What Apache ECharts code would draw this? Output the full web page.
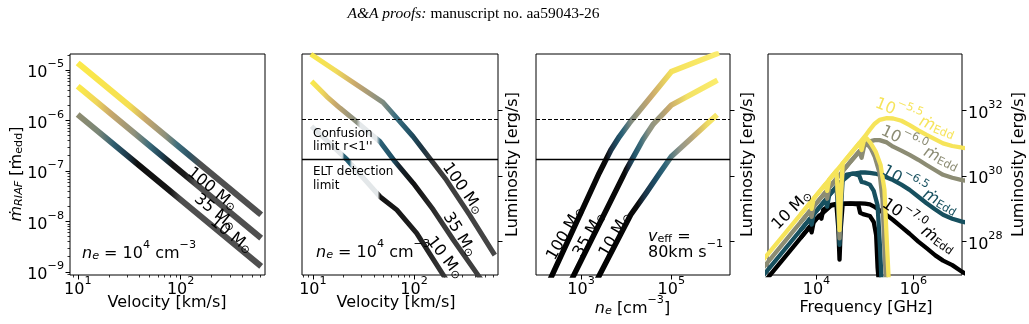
<!DOCTYPE html>
<html>
<head>
<meta charset="utf-8">
<script src="https://cdn.jsdelivr.net/npm/echarts@6.0.0/dist/echarts.min.js"></script>
<style>
html,body{margin:0;padding:0;background:#ffffff;}
#chart{width:1029px;height:324px;}
</style>
</head>
<body>
<div id="chart"></div>
<script>
// ================= DATA =================
// Panel 1: accretion rate vs velocity, n_e = 1e4 cm^-3
const p1Velocity = [10.5, 575];
const p1Mdot100 = [1.26e-5, 1.48e-8];
const p1Mdot35  = [4.37e-6, 5.1e-9];
const p1Mdot10  = [1.2e-6, 1.41e-9];
const p1XTicks = [10, 100];
const p1YTicks = [1e-9, 1e-8, 1e-7, 1e-6, 1e-5];

// Panel 2: luminosity vs velocity
const p2Vel100 = [10, 49.3, 97.7, 209, 355, 610];
const p2Lum100 = [4.79e33, 1.78e32, 1.62e31, 7.59e29, 6.46e28, 4.47e27];
const p2Vel35  = [10.1, 13.7, 18.5, 27.1, 46.1, 64.9, 98.4, 155, 245, 417, 501];
const p2Lum35  = [6.92e32, 2.69e32, 1.2e32, 4.57e31, 1.12e31, 2.75e30, 6.03e29, 9.33e28, 1.12e28, 1.07e27, 4.79e26];
const p2Vel10  = [10.1, 21.6, 46.1, 67.5, 106, 181, 214];
const p2Lum10  = [2.95e31, 3.24e30, 2.34e29, 9.33e28, 1.82e28, 1.35e27, 6.03e26];
const limitLum = [5.46e31, 3.35e30];   // confusion limit r<1'', ELT detection limit

// Panel 3: luminosity vs density, v_eff = 80 km/s
const p3Dens100 = [158, 2512, 4571, 7079, 11750, 1e5, 1e6];
const p3Lum100  = [3.16e26, 1.23e30, 6.31e30, 1.62e31, 4.17e31, 1.55e33, 5.37e33];
const p3Dens35  = [501, 1e4, 23440, 38900, 1e5, 9.33e5];
const p3Lum35   = [3.89e26, 1.55e30, 1.29e31, 3.72e31, 1.48e32, 7.76e32];
const p3Dens10  = [1995, 12590, 27540, 54950, 1e5, 9.33e5];
const p3Lum10   = [4.9e26, 6.61e28, 3.02e29, 1.23e30, 3.98e30, 6.61e31];
const p3XTicks = [1e3, 1e5];
const lumTicks = [1e28, 1e30, 1e32];

// Panel 4: spectra of a 10 Msun BH for four accretion rates
const p4FreqSmooth = [794, 3162, 1e4, 19950, 31620, 50120, 79430, 1e5, 125900, 158500, 199500, 281800, 380200, 562300, 831800, 1.259e6, 1.862e6, 2.818e6, 4.074e6, 6.31e6, 1e7, 1.259e7];
const p4LumSmooth55 = [2.75e27, 3.31e28, 2.63e29, 9.12e29, 2.09e30, 4.79e30, 1.1e31, 1.66e31, 2.63e31, 3.98e31, 5.25e31, 5.89e31, 5.75e31, 4.9e31, 3.63e31, 2.51e31, 1.82e31, 1.32e31, 1e31, 8.32e30, 7.41e30, 7.08e30];
const p4LumSmooth60 = [1.58e27, 1.91e28, 1.51e29, 5.25e29, 1.2e30, 2.75e30, 6.03e30, 8.91e30, 1.15e31, 1.26e31, 1.26e31, 1.07e31, 7.94e30, 6.03e30, 4.47e30, 3.16e30, 2.19e30, 1.51e30, 1.1e30, 8.91e29, 7.59e29, 7.24e29];
const p4LumSmooth65 = [9.12e26, 1.1e28, 8.71e28, 3.02e29, 6.61e29, 1.15e30, 1.29e30, 1.29e30, 1.26e30, 1.2e30, 1.1e30, 9.12e29, 7.59e29, 5.5e29, 3.8e29, 2.34e29, 1.48e29, 9.55e28, 6.61e28, 5.01e28, 4.07e28, 3.8e28];
const p4LumSmooth70 = [5.25e26, 6.31e27, 5.01e28, 1.26e29, 1.45e29, 1.48e29, 1.48e29, 1.45e29, 1.38e29, 1.15e29, 9.12e28, 6.46e28, 4.57e28, 2.82e28, 1.74e28, 1e28, 6.31e27, 3.8e27, 2.63e27, 1.91e27, 1.2e27, 1e27];

const p4FreqAbs55 = [5012, 7244, 7943, 8710, 15140, 16600, 18200, 25700, 28180, 29850, 31620, 34670, 75860, 85110, 95500, 109600, 131800, 166000, 208900, 251200, 281800, 316200];
const p4LumAbs55  = [7.59e28, 1.48e29, 1e29, 2.04e29, 5.5e29, 3.55e29, 7.76e29, 1.45e30, 2e29, 2.24e28, 2e29, 2.45e30, 1e31, 6.31e30, 1.26e31, 1.41e31, 1e31, 5.62e30, 2.24e30, 3.98e29, 1e28, 3.16e26];
const p4FreqAbs60 = [5012, 7244, 7943, 8710, 15140, 16600, 18200, 25700, 28180, 29850, 31620, 34670, 75860, 85110, 95500, 109600, 131800, 158500, 199500, 229100, 251200, 275400];
const p4LumAbs60  = [4.37e28, 8.51e28, 5.75e28, 1.17e29, 3.16e29, 2.04e29, 4.47e29, 8.32e29, 1.26e29, 1.26e28, 1.26e29, 1.41e30, 5.75e30, 3.63e30, 7.94e30, 1e31, 7.08e30, 3.98e30, 1.26e30, 2e29, 6.31e27, 3.16e26];
const p4FreqAbs65 = [5012, 7244, 7943, 8710, 15140, 16600, 18200, 25700, 28180, 29850, 31620, 34670, 41690, 56230, 75860, 85110, 1e5, 125900, 151400, 182000, 204200, 223900];
const p4LumAbs65  = [2.51e28, 4.9e28, 3.31e28, 6.76e28, 1.82e29, 1.17e29, 2.57e29, 4.79e29, 7.94e28, 7.94e27, 7.94e28, 7.94e29, 1.12e30, 1.2e30, 1.05e30, 6.61e29, 6.31e29, 5.5e29, 3.55e29, 1.26e29, 6.31e27, 3.16e26];
const p4FreqAbs70 = [5012, 7244, 7943, 8710, 11480, 12590, 13800, 19950, 25700, 28180, 29850, 31620, 34670, 50120, 72440, 79430, 91200, 125900, 151400, 169800, 182000, 199500];
const p4LumAbs70  = [1.45e28, 2.82e28, 1.91e28, 3.89e28, 6.31e28, 5.01e28, 9.55e28, 1.32e29, 1.41e29, 2.51e28, 2.82e27, 2.51e28, 1.41e29, 1.45e29, 1.38e29, 7.59e28, 6.92e28, 6.03e28, 3.98e28, 1.58e28, 1.58e27, 3.16e26];
const p4XTicks = [1e4, 1e6];

const massLabels = ['100', '35', '10'];
const eddExponents = ['\u22125.5', '\u22126.0', '\u22126.5', '\u22127.0'];

// ================= STYLES =================
const FONT = 'DejaVu Sans';
const C55 = '#f6e45a', C60 = '#8c8c74', C65 = '#17505f', C70 = '#000000';
// colour stops along each gradient line, keyed by x value
const GRAD = {
  p1_100: [[10.5,'#fbe94a'],[31.6,'#f5df52'],[44.7,'#caa96b'],[70.8,'#8f917c'],[93.3,'#3e6e7d'],[120,'#2e5566'],[158,'#4f4f4f'],[603,'#4f4f4f']],
  p1_35:  [[10.5,'#fbe94a'],[15.1,'#f0d65a'],[20.9,'#c9a86b'],[35.5,'#8f917c'],[50.1,'#3a6b7b'],[66.1,'#1d3d4f'],[83.2,'#141414'],[110,'#1a1a1a'],[138,'#4f4f4f'],[603,'#4f4f4f']],
  p1_10:  [[10.5,'#8c8b70'],[15.8,'#7a8677'],[22.4,'#2f5e70'],[30.2,'#1d3a4c'],[38,'#0e0e0e'],[79.4,'#161616'],[100,'#4f4f4f'],[603,'#4f4f4f']],
  p2_100: [[10,'#f8e84c'],[16.6,'#f2dc5a'],[26.3,'#c9a86c'],[39.8,'#99957c'],[50.1,'#7d8b80'],[66.1,'#3b6e80'],[89.1,'#235468'],[120,'#1c3442'],[158,'#3a3a3a'],[617,'#474747']],
  p2_35:  [[10,'#f8e84c'],[12.3,'#efd85c'],[16.6,'#c8a86c'],[22.9,'#9b977c'],[26.9,'#8a8f80'],[29.5,'#e4e8ea'],[42.7,'#e4e8ea'],[46.2,'#2d6277'],[61.7,'#1d4e63'],[72.4,'#15222c'],[100,'#111111'],[200,'#3a3a3a'],[501,'#404040']],
  p2_10:  [[10,'#e3e7e9'],[19.5,'#e3e7e9'],[20.4,'#2a6276'],[22.9,'#1d5a70'],[24.3,'#e3e7e9'],[43.7,'#e3e7e9'],[46.2,'#121212'],[126,'#222222'],[214,'#3a3a3a']],
  p3_100: [[158,'#000000'],[3548,'#0a0a0a'],[4365,'#1b2b3c'],[6026,'#1f4a60'],[8318,'#2c6378'],[12590,'#7f8a80'],[19950,'#a39c7a'],[35480,'#c9a86c'],[70790,'#e6cf60'],[1e5,'#f5e25c'],[1e6,'#fbec6c']],
  p3_35:  [[501,'#000000'],[9333,'#0a0a0a'],[11220,'#1b2b3c'],[15140,'#24566b'],[21380,'#3f6f7c'],[31620,'#8c9282'],[56230,'#a39c7a'],[89130,'#c9aa6c'],[141300,'#dcc468'],[223900,'#f3e264'],[933300,'#fbec6c']],
  p3_10:  [[1995,'#000000'],[17780,'#0a0a0a'],[25120,'#1b3347'],[44670,'#1e4d66'],[70790,'#2d6579'],[1e5,'#56797e'],[158500,'#93978a'],[281800,'#b4a57c'],[398100,'#d2b86c'],[631000,'#efdc62'],[933300,'#f8e86a']]
};

// ================= HELPERS =================
function pairs(xs, ys) { return xs.map(function (x, i) { return [x, ys[i]]; }); }
function expText(v) {
  const e = Math.round(Math.log10(v));
  return '{b|10}{s|' + String(e).replace('-', '\u2212') + '}';
}
const tickRich = {
  b: {fontFamily: FONT, fontSize: 16, lineHeight: 22, verticalAlign: 'bottom', color: '#000'},
  s: {fontFamily: FONT, fontSize: 11.2, lineHeight: 10, verticalAlign: 'top', color: '#000'}
};
function minorTicks(lo, hi) {
  const out = [];
  for (let e = Math.floor(Math.log10(lo)); e <= Math.ceil(Math.log10(hi)); e++) {
    for (let m = 2; m <= 9; m++) {
      const v = parseFloat((m * Math.pow(10, e)).toPrecision(6));
      if (v >= lo && v <= hi) out.push(v);
    }
  }
  return out;
}
function mainAxis(o, ticks, showLabels, margin) {
  return Object.assign({
    type: 'log', logBase: 10, splitLine: {show: false}, axisLine: {show: false},
    axisPointer: {show: false},
    axisTick: {show: true, length: 4.5, lineStyle: {color: '#000', width: 1}, customValues: ticks},
    axisLabel: {show: showLabels, customValues: ticks, formatter: expText, rich: tickRich, margin: margin}
  }, o);
}
function minorAxis(o) {
  return Object.assign({
    type: 'log', logBase: 10, splitLine: {show: false}, axisLine: {show: false},
    axisPointer: {show: false},
    axisTick: {show: true, length: 2.5, lineStyle: {color: '#000', width: 0.8}, customValues: minorTicks(o.min, o.max)},
    axisLabel: {show: false}
  }, o);
}

// ================= AXES =================
const P1X = {min: 8.4, max: 660}, P1Y = {min: 8.7e-10, max: 2.07e-5};
const P2X = {min: 7.8, max: 676};
const LUM = {min: 9.55e26, max: 5.37e33};
const xAxes = [
  mainAxis({gridIndex: 0, position: 'bottom', min: P1X.min, max: P1X.max}, p1XTicks, true, 1),
  minorAxis({gridIndex: 0, position: 'bottom', min: P1X.min, max: P1X.max}),
  mainAxis({gridIndex: 1, position: 'bottom', min: P2X.min, max: P2X.max}, p1XTicks, true, 1),
  minorAxis({gridIndex: 1, position: 'bottom', min: P2X.min, max: P2X.max}),
  mainAxis({gridIndex: 2, position: 'bottom', min: 100, max: 2e6}, p3XTicks, true, 1),
  mainAxis({gridIndex: 3, position: 'bottom', min: 1e3, max: 1e7}, p4XTicks, true, 1)
];
const yAxes = [
  mainAxis({gridIndex: 0, position: 'left', min: P1Y.min, max: P1Y.max}, p1YTicks, true, 6),
  minorAxis({gridIndex: 0, position: 'left', min: P1Y.min, max: P1Y.max}),
  mainAxis({gridIndex: 1, position: 'right', min: LUM.min, max: LUM.max}, lumTicks, false, 6),
  mainAxis({gridIndex: 2, position: 'right', min: LUM.min, max: LUM.max}, lumTicks, false, 6),
  mainAxis({gridIndex: 3, position: 'right', min: LUM.min, max: LUM.max}, lumTicks, true, 6)
];
const grids = [
  {left: 70, top: 54, width: 195, height: 221},
  {left: 302, top: 54, width: 196, height: 221},
  {left: 536, top: 54, width: 194, height: 221},
  {left: 768, top: 54, width: 194, height: 221}
].map(function (g) {
  return Object.assign({show: true, borderColor: '#000', borderWidth: 1, backgroundColor: 'transparent', containLabel: false, outerBoundsMode: 'none'}, g);
});

// ================= SERIES =================
const series = [];
function line(id, xi, yi, data, width, color) {
  series.push({
    id: id, type: 'line', xAxisIndex: xi, yAxisIndex: yi, data: data,
    showSymbol: false, symbol: 'none', silent: true, animation: false, clip: true,
    emphasis: {disabled: true},
    lineStyle: {width: width, color: color, cap: 'square', join: 'round'}
  });
}
line('p1_100', 0, 0, pairs(p1Velocity, p1Mdot100), 6, '#4f4f4f');
line('p1_35', 0, 0, pairs(p1Velocity, p1Mdot35), 6, '#4f4f4f');
line('p1_10', 0, 0, pairs(p1Velocity, p1Mdot10), 6, '#4f4f4f');

line('p2_100', 2, 2, pairs(p2Vel100, p2Lum100), 5, '#444');
line('p2_35', 2, 2, pairs(p2Vel35, p2Lum35), 5, '#444');
line('p2_10', 2, 2, pairs(p2Vel10, p2Lum10), 5, '#444');

line('p3_100', 4, 3, pairs(p3Dens100, p3Lum100), 5.5, '#000');
line('p3_35', 4, 3, pairs(p3Dens35, p3Lum35), 5.5, '#000');
line('p3_10', 4, 3, pairs(p3Dens10, p3Lum10), 5.5, '#000');

line('p4_s70', 5, 4, pairs(p4FreqSmooth, p4LumSmooth70), 4.3, C70);
line('p4_a70', 5, 4, pairs(p4FreqAbs70, p4LumAbs70), 4.3, C70);
line('p4_s65', 5, 4, pairs(p4FreqSmooth, p4LumSmooth65), 4.3, C65);
line('p4_a65', 5, 4, pairs(p4FreqAbs65, p4LumAbs65), 4.3, C65);
line('p4_s60', 5, 4, pairs(p4FreqSmooth, p4LumSmooth60), 4.3, C60);
line('p4_a60', 5, 4, pairs(p4FreqAbs60, p4LumAbs60), 4.3, C60);
line('p4_s55', 5, 4, pairs(p4FreqSmooth, p4LumSmooth55), 4.3, C55);
line('p4_a55', 5, 4, pairs(p4FreqAbs55, p4LumAbs55), 4.3, C55);

function limitLines(xi, yi, id) {
  series.push({
    id: id, type: 'line', xAxisIndex: xi, yAxisIndex: yi, data: [], silent: true, animation: false, z: 3,
    markLine: {
      silent: true, symbol: ['none', 'none'], label: {show: false}, animation: false,
      data: [
        {yAxis: limitLum[0], lineStyle: {type: [4, 2], width: 1, color: '#000'}},
        {yAxis: limitLum[1], lineStyle: {type: 'solid', width: 1.3, color: '#000'}}
      ]
    }
  });
}
limitLines(2, 2, 'lim2');
limitLines(4, 3, 'lim3');

// ================= TEXT =================
function R(color, size) {
  size = size || 16;
  const sm = size * 0.7;
  function f(o) { return Object.assign({fontFamily: FONT, fill: color, color: color}, o); }
  return {
    b: f({fontSize: size, lineHeight: 22, verticalAlign: 'bottom'}),
    i: f({fontSize: size, lineHeight: 22, verticalAlign: 'bottom', fontStyle: 'italic'}),
    sup: f({fontSize: sm, lineHeight: 10, verticalAlign: 'top'}),
    sub: f({fontSize: sm, lineHeight: 10, verticalAlign: 'bottom'}),
    isub: f({fontSize: sm, lineHeight: 10, verticalAlign: 'bottom', fontStyle: 'italic'})
  };
}
function txt(x, y, rotDeg, text, color, align) {
  return {
    type: 'text', x: x, y: y, rotation: rotDeg * Math.PI / 180, silent: true, z: 100,
    style: {text: text, rich: R(color), fill: color, fontFamily: FONT, fontSize: 16,
            align: align || 'center', verticalAlign: 'middle'}
  };
}
function plain(x, y, text, size, lh) {
  return {type: 'text', x: x, y: y, silent: true, z: 100,
    style: {text: text, fill: '#000', fontFamily: FONT, fontSize: size, lineHeight: lh, align: 'left', verticalAlign: 'top'}};
}
function msun(m) { return '{b|' + m + ' M}{sub|\u2299}'; }
const neText = '{i|n}{isub|e}{b| = 10}{sup|4}{b| cm}{sup|\u22123}';
const lumTitle = '{b|Luminosity [erg/s]}';

const graphics = [
  {type: 'text', x: 473.5, y: 14, silent: true,
   style: {text: '{it|A&A proofs:}{n| manuscript no. aa59043-26}', align: 'center', verticalAlign: 'middle',
     rich: {it: {fontFamily: 'Liberation Serif', fontSize: 15.5, fontStyle: 'italic', fill: '#000'},
            n: {fontFamily: 'Liberation Serif', fontSize: 15.5, fill: '#000'}}}},
  // panel 1
  txt(14, 174, 90, '{i|\u1e41}{isub|RIAF}{b| [\u1e41}{sub|edd}{b|]}', '#000'),
  txt(167, 300, 0, '{b|Velocity [km/s]}', '#000'),
  txt(82, 251, 0, neText, '#000', 'left'),
  txt(214, 187, -39, msun(massLabels[0]), '#000'),
  txt(217, 210, -39, msun(massLabels[1]), '#000'),
  txt(233, 233, -39, msun(massLabels[2]), '#000'),
  // panel 2
  txt(396, 300, 0, '{b|Velocity [km/s]}', '#000'),
  txt(510, 164.5, 90, lumTitle, '#000'),
  plain(313, 127, 'Confusion\nlimit r<1\'\'', 12, 13.5),
  plain(313, 165.5, 'ELT detection\nlimit', 12, 13.5),
  txt(316, 250, 0, neText, '#000', 'left'),
  txt(465, 187, -55, msun(massLabels[0]), '#000'),
  txt(462, 233, -58, msun(massLabels[1]), '#000'),
  txt(447, 256, -52, msun(massLabels[2]), '#000'),
  // panel 3
  txt(632.5, 306, 0, '{i|n}{isub|e}{b| [cm}{sup|\u22123}{b|]}', '#000'),
  txt(745, 164.5, 90, lumTitle, '#000'),
  txt(563, 232, 60, msun(massLabels[0]), '#000'),
  txt(587, 233, 60, msun(massLabels[1]), '#000'),
  txt(613, 233, 60, msun(massLabels[2]), '#000'),
  txt(648, 234, 0, '{i|v}{sub|eff}{b| =}', '#000', 'left'),
  txt(648, 250, 0, '{b|80km s}{sup|\u22121}', '#000', 'left'),
  // panel 4
  txt(866, 305, 0, '{b|Frequency [GHz]}', '#000'),
  txt(1016, 164.5, 90, lumTitle, '#000'),
  txt(790, 208, 45, msun(massLabels[2]), '#000'),
  txt(916, 116, -22, '{b|10}{sup|' + eddExponents[0] + '}{i|\u1e41}{sub|Edd}', C55),
  txt(921, 146, -26, '{b|10}{sup|' + eddExponents[1] + '}{i|\u1e41}{sub|Edd}', C60),
  txt(921, 188, -30, '{b|10}{sup|' + eddExponents[2] + '}{i|\u1e41}{sub|Edd}', C65),
  txt(920, 224, -35, '{b|10}{sup|' + eddExponents[3] + '}{i|\u1e41}{sub|Edd}', C70)
];

// ================= RENDER =================
const chart = echarts.init(document.getElementById('chart'), null, {renderer: 'canvas', width: 1029, height: 324});
chart.setOption({
  animation: false,
  backgroundColor: '#ffffff',
  grid: grids,
  xAxis: xAxes,
  yAxis: yAxes,
  series: series,
  graphic: {elements: graphics}
});

// colour gradients along the lines, positioned through the axes
function makeGrad(xi, stops) {
  const px = stops.map(function (s) { return chart.convertToPixel({xAxisIndex: xi}, s[0]); });
  const x0 = px[0], x1 = px[px.length - 1];
  return {
    type: 'linear', x: x0, y: 0, x2: x1, y2: 0, global: true,
    colorStops: stops.map(function (s, i) { return {offset: Math.min(1, Math.max(0, (px[i] - x0) / (x1 - x0))), color: s[1]}; })
  };
}
const updates = Object.keys(GRAD).map(function (id) {
  const s = series.find(function (q) { return q.id === id; });
  return {id: id, lineStyle: {color: makeGrad(s.xAxisIndex, GRAD[id])}};
});
chart.setOption({series: updates});
</script>
</body>
</html>
